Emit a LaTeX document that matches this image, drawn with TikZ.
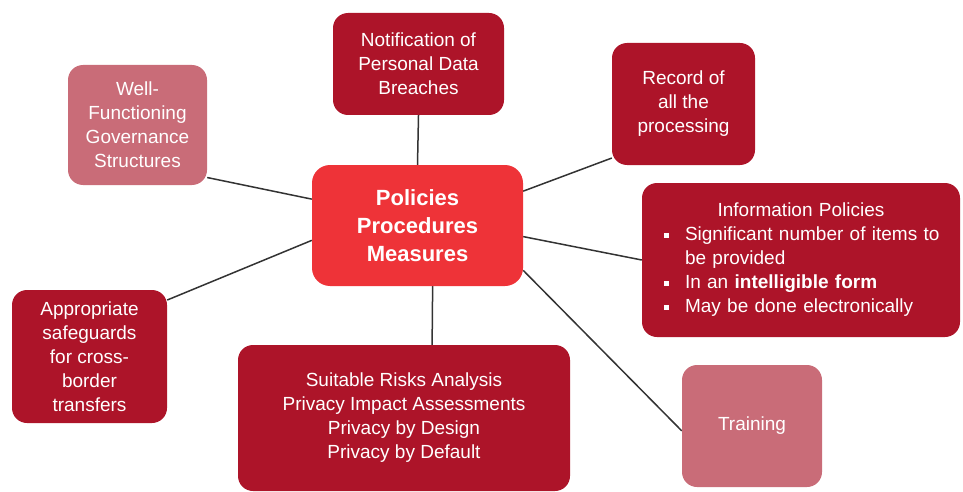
\documentclass[tikz,border=0pt]{standalone}
\usepackage{fontspec}
\setmainfont{Liberation Sans}
\usetikzlibrary{backgrounds}
\definecolor{darkred}{HTML}{AD1429}
\definecolor{mainred}{HTML}{EE3338}
\definecolor{pinkred}{HTML}{C96C78}
\definecolor{linegray}{HTML}{333333}
\newcommand{\sqbullet}{\makebox[34pt][l]{\hspace*{13pt}\rule[3pt]{5pt}{5pt}}}
\begin{document}
\begin{tikzpicture}[x=1pt,y=-1pt,
  box/.style={rounded corners=15pt, text=white, align=center, inner sep=0pt,
              font=\fontsize{19}{24}\selectfont},
  darkbox/.style={box, fill=darkred},
  pinkbox/.style={box, fill=pinkred},
  link/.style={draw=linegray, line width=1.5pt}]
\useasboundingbox (0,0) rectangle (963,492);

\node[box, fill=mainred, rounded corners=18pt, minimum width=211pt, minimum height=121pt,
      font=\fontsize{22}{28}\selectfont\bfseries] (center) at (417.5,225.5)
      {Policies\\Procedures\\Measures};

\node[darkbox, minimum width=171pt, minimum height=102pt] (notif) at (418.5,64)
      {Notification of\\Personal Data\\Breaches};

\node[darkbox, minimum width=143pt, minimum height=122pt] (record) at (683.5,104)
      {Record of\\all the\\processing};

\node[darkbox, minimum width=318pt, minimum height=154pt, align=left,
      text width=300pt, inner xsep=9pt] (info) at (801,260)
      {\makebox[300pt][c]{Information Policies}\\
       \sqbullet Significant number of items to\\
       \hspace*{34pt}be provided\\
       \sqbullet In an \textbf{intelligible form}\\
       \sqbullet May be done electronically};

\node[pinkbox, minimum width=139pt, minimum height=120pt] (well) at (137.5,125)
      {Well-\\Functioning\\Governance\\Structures};

\node[darkbox, minimum width=155pt, minimum height=133pt] (approp) at (89.5,356.5)
      {Appropriate\\safeguards\\for cross-\\border\\transfers};

\node[darkbox, minimum width=332pt, minimum height=146pt] (suit) at (404,418)
      {Suitable Risks Analysis\\Privacy Impact Assessments\\Privacy by Design\\Privacy by Default};

\node[pinkbox, minimum width=140pt, minimum height=122pt] (train) at (752,426)
      {Training};

\begin{scope}[on background layer]
  \draw[link] (notif.south) -- (center.north);
  \draw[link] (center.18.8) -- (record.217.3);
  \draw[link] (center.-6.3) -- (info.180);
  \draw[link] (center.-23.8) -- (train.184);
  \draw[link] (center.-76.5) -- (suit.69);
  \draw[link] (well.-37.3) -- (center.166.4);
  \draw[link] (approp.36.1) -- (center.188.9);
\end{scope}
\end{tikzpicture}
\end{document}
